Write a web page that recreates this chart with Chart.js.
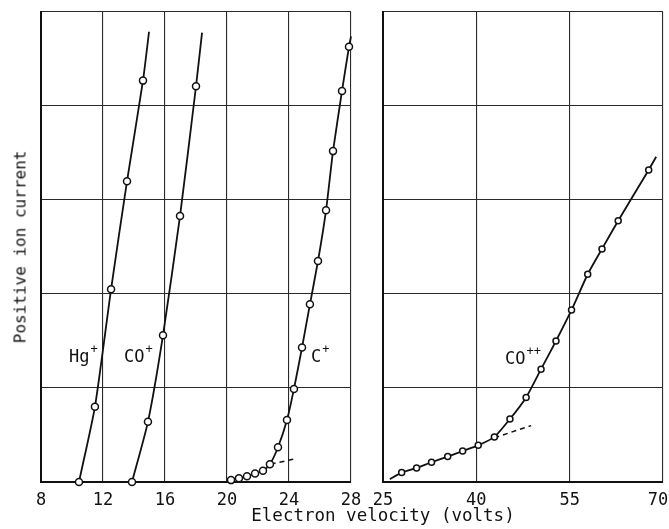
<!DOCTYPE html>
<html>
<head>
<meta charset="utf-8">
<script src="https://cdn.jsdelivr.net/npm/chart.js@4/dist/chart.umd.min.js"></script>
<style>
  html, body { margin: 0; padding: 0; background: #fff; }
  #wrap { position: relative; width: 669px; height: 529px; overflow: hidden; }
  canvas { position: absolute; left: 0; top: 0; }
  .lbl { position: absolute; font-family: "DejaVu Sans Mono", monospace; font-size: 17px; line-height: 1; color: #111; white-space: nowrap; }
  .lbl sup { font-size: 12px; position: relative; top: -2px; margin-left: 1px; }
  #ytitle { position: absolute; left: 20px; top: 247px; transform: translate(-50%, -50%) rotate(-90deg); font-family: "DejaVu Sans Mono", monospace; font-size: 16px; color: #111; white-space: nowrap; }
  #xtitle { position: absolute; left: 383px; top: 507px; transform: translateX(-50%); font-family: "DejaVu Sans Mono", monospace; font-size: 17.5px; line-height: 1; color: #111; white-space: nowrap; }
</style>
</head>
<body>
<div id="wrap">
  <canvas id="left" width="669" height="529"></canvas>
  <canvas id="right" width="669" height="529"></canvas>
  <div id="ytitle">Positive ion current</div>
  <div id="xtitle">Electron velocity (volts)</div>
  <div class="lbl" style="left:69px;top:345px">Hg<sup>+</sup></div>
  <div class="lbl" style="left:124px;top:345px">CO<sup>+</sup></div>
  <div class="lbl" style="left:311px;top:345px">C<sup>+</sup></div>
  <div class="lbl" style="left:505px;top:347px">CO<sup>++</sup></div>
</div>
<script>
// ---- Left panel data (electron velocity in volts, ion current in arbitrary units) ----
const hgVolts   = [10.45, 11.48, 12.52, 13.55, 14.58, 14.97];
const hgCurrent = [0.00, 0.80, 2.05, 3.20, 4.27, 4.79];

const coVolts   = [13.87, 14.90, 15.87, 16.97, 18.00, 18.39];
const coCurrent = [0.00, 0.64, 1.56, 2.83, 4.21, 4.78];

const cVolts   = [20.26, 20.77, 21.29, 21.81, 22.32, 22.77, 23.29, 23.87, 24.32, 24.84, 25.35, 25.87, 26.39, 26.84, 27.42, 27.87, 28.00];
const cCurrent = [0.02, 0.04, 0.06, 0.09, 0.12, 0.19, 0.37, 0.66, 0.99, 1.43, 1.89, 2.35, 2.89, 3.52, 4.16, 4.63, 4.74];

const cDashVolts   = [22.82, 24.5];
const cDashCurrent = [0.19, 0.25];

// ---- Right panel data ----
const co2Volts   = [26.1, 28.0, 30.4, 32.8, 35.4, 37.8, 40.3, 42.9, 45.4, 48.0, 50.4, 52.8, 55.3, 57.9, 60.2, 62.8, 67.7, 68.9];
const co2Current = [0.03, 0.10, 0.15, 0.21, 0.27, 0.33, 0.39, 0.48, 0.67, 0.90, 1.20, 1.50, 1.83, 2.21, 2.48, 2.78, 3.32, 3.46];

const co2DashVolts   = [42.9, 48.8];
const co2DashCurrent = [0.47, 0.60];

// ---- Axis ticks ----
const leftTicks  = [8, 12, 16, 20, 24, 28];
const rightTicks = [25, 40, 55, 70];
const currentTicks = [0, 1, 2, 3, 4, 5];

function pts(xs, ys) { return xs.map((x, i) => ({ x: x, y: ys[i] })); }

const INK = '#111';

function curve(xs, ys, unmarkedFirst, unmarkedLast, radius) {
  const n = xs.length;
  return {
    data: pts(xs, ys),
    showLine: true,
    borderColor: INK,
    borderWidth: 1.8,
    tension: 0.2,
    pointRadius: ctx => ((unmarkedFirst && ctx.dataIndex === 0) || (unmarkedLast && ctx.dataIndex === n - 1)) ? 0 : radius,
    pointBackgroundColor: '#fff',
    pointBorderColor: INK,
    pointBorderWidth: 1.5,
    clip: false
  };
}
function dashed(xs, ys) {
  return {
    data: pts(xs, ys),
    showLine: true,
    borderColor: INK,
    borderWidth: 1.5,
    borderDash: [5, 4],
    pointRadius: 0,
    clip: false
  };
}

function scales(xmin, xmax, ticks, padLast) {
  return {
    x: {
      type: 'linear', min: xmin, max: xmax,
      afterBuildTicks: s => { s.ticks = ticks.map(v => ({ value: v })); },
      afterFit: s => { s.height = 47; s.paddingLeft = 0; s.paddingRight = 0; },
      grid: { color: '#2a2a2a', lineWidth: 1.1, drawTicks: false },
      border: { color: INK, width: 2 },
      ticks: {
        color: INK, padding: 8, font: { family: 'DejaVu Sans Mono', size: 17 }, maxRotation: 0, autoSkip: false,
        callback: (v, i) => (padLast && i === ticks.length - 1) ? String(v) + ' ' : String(v)
      }
    },
    y: {
      type: 'linear', min: 0, max: 5,
      afterBuildTicks: s => { s.ticks = currentTicks.map(v => ({ value: v })); },
      afterFit: s => { s.width = 0; },
      grid: { color: '#2a2a2a', lineWidth: 1.1, drawTicks: false },
      border: { color: INK, width: 2 },
      ticks: { display: false }
    }
  };
}

const common = {
  responsive: false,
  animation: false,
  plugins: { legend: { display: false }, tooltip: { enabled: false } },
  events: []
};

new Chart(document.getElementById('left'), {
  type: 'scatter',
  data: {
    datasets: [
      curve(hgVolts, hgCurrent, false, true, 3.5),
      curve(coVolts, coCurrent, false, true, 3.5),
      curve(cVolts, cCurrent, false, true, 3.5),
      dashed(cDashVolts, cDashCurrent)
    ]
  },
  options: Object.assign({}, common, {
    layout: { padding: { left: 41, right: 318, top: 12, bottom: 0 } },
    scales: scales(8, 28, leftTicks, false)
  })
});

new Chart(document.getElementById('right'), {
  type: 'scatter',
  data: {
    datasets: [
      curve(co2Volts, co2Current, true, true, 3),
      dashed(co2DashVolts, co2DashCurrent)
    ]
  },
  options: Object.assign({}, common, {
    layout: { padding: { left: 383, right: 6, top: 12, bottom: 0 } },
    scales: scales(25, 70, rightTicks, true)
  })
});
</script>
</body>
</html>
